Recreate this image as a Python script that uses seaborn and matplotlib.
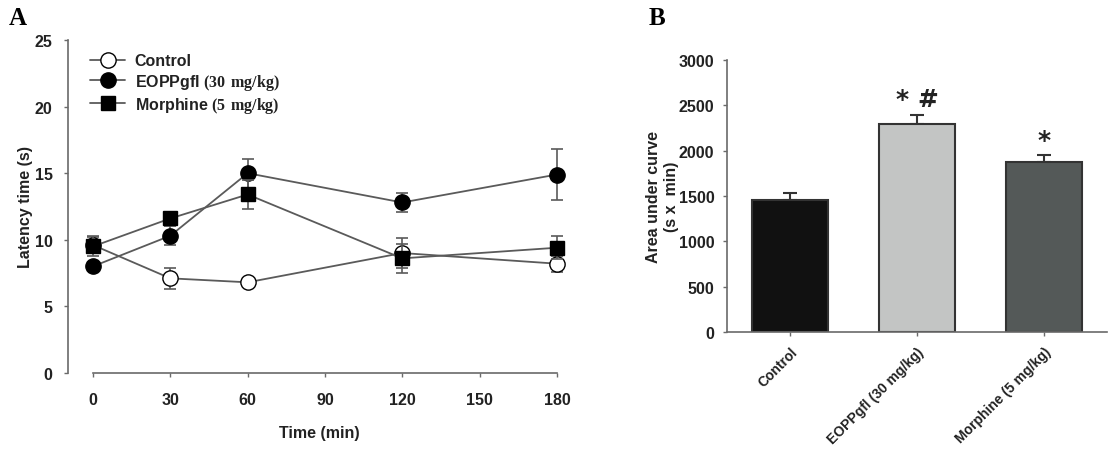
import numpy as np
import pandas as pd
import seaborn as sns
import matplotlib
matplotlib.use('Agg')
import matplotlib.pyplot as plt

# panel A: latency time (s) over time, mean +/- SEM
times = [0, 30, 60, 120, 180]
control = [9.6, 7.1, 6.8, 9.0, 8.2]
control_err = [0.6, 0.8, 0.3, 1.1, 0.6]
eopp = [8.0, 10.3, 15.0, 12.8, 14.9]
eopp_err = [0.3, 0.7, 1.1, 0.7, 1.9]
morphine = [9.5, 11.6, 13.4, 8.6, 9.4]
morphine_err = [0.75, 0.4, 1.1, 1.1, 0.85]

# panel B: area under curve
groups = ['Control', 'EOPPgfl (30 mg/kg)', 'Morphine (5 mg/kg)']
auc = [1460, 2300, 1875]
auc_err = [75, 95, 75]
bar_colors = ['#111111', '#c2c6c4', '#535a58']
marks = ['', '* #', '*']

sns.set_style('ticks')
plt.rcParams['font.family'] = ['Liberation Sans', 'DejaVu Sans']
plt.rcParams['font.weight'] = 'bold'
plt.rcParams['mathtext.fontset'] = 'custom'
plt.rcParams['mathtext.bf'] = 'Liberation Serif:bold'
plt.rcParams['mathtext.rm'] = 'Liberation Serif:bold'

fig = plt.figure(figsize=(11.15, 4.52), dpi=100)
axA = fig.add_axes([0.061, 0.173, 0.450, 0.736])
axB = fig.add_axes([0.652, 0.263, 0.341, 0.602])

line_col = '#5a5a5a'
spine_col = '#6a6a6a'
txt_col = '#222222'
fs = 11.5

series = [
    ('Control', control, control_err, 'o', 'white'),
    (r'EOPPgfl $\mathbf{(30\ mg/kg)}$', eopp, eopp_err, 'o', 'black'),
    (r'Morphine $\mathbf{(5\ mg/kg)}$', morphine, morphine_err, 's', 'black'),
]
for i, (lab, vals, err, mk, fc) in enumerate(series):
    axA.errorbar(times, vals, yerr=err, fmt='none', ecolor=line_col,
                 elinewidth=1.2, capsize=4, capthick=1.2, zorder=2 + i)
    sns.lineplot(x=times, y=vals, ax=axA, color=line_col, lw=1.3,
                 marker=mk, markersize=11 if mk == 'o' else 10,
                 markerfacecolor=fc, markeredgecolor='black',
                 markeredgewidth=1.0, label=lab, zorder=3 + i)

axA.set_xlim(-9.7, 185)
axA.set_ylim(0, 25)
axA.set_xticks([0, 30, 60, 90, 120, 150, 180])
axA.set_yticks([0, 5, 10, 15, 20, 25])
sns.despine(ax=axA)
axA.spines['bottom'].set_bounds(0, 180)
for s in ['left', 'bottom']:
    axA.spines[s].set_color(spine_col)
    axA.spines[s].set_linewidth(1.2)
axA.tick_params(length=3, width=1, color=spine_col, labelsize=fs,
                labelcolor=txt_col, pad=8)
axA.tick_params(axis='x', pad=11)
axA.set_xlabel('Time (min)', fontsize=fs, fontweight='bold', labelpad=13,
               color=txt_col)
axA.set_ylabel('Latency time (s)', fontsize=fs, fontweight='bold',
               labelpad=1, color=txt_col)
leg = axA.legend(loc='upper left', bbox_to_anchor=(0.044, 0.96),
                 frameon=False, fontsize=fs, handlelength=2.2,
                 handletextpad=0.6, labelspacing=0.2, borderpad=0,
                 borderaxespad=0)
for t in leg.get_texts():
    t.set_color(txt_col)

# panel B
df_b = pd.DataFrame({'group': groups, 'auc': auc})
sns.barplot(data=df_b, x='group', y='auc', hue='group', palette=bar_colors,
            legend=False, width=0.6, edgecolor='#333333', linewidth=1.5,
            ax=axB, zorder=2)
axB.errorbar(range(len(groups)), auc, yerr=[[0] * len(auc), auc_err],
             fmt='none', ecolor='#333333', elinewidth=1.5, capsize=5,
             capthick=1.5, zorder=1)
for i, m in enumerate(marks):
    if m:
        axB.text(i, auc[i] + auc_err[i] + 40, m, ha='center', va='bottom',
                 fontsize=18, fontweight='bold', family='DejaVu Sans',
                 color=txt_col)
axB.set_xlim(-0.5, 2.5)
axB.set_ylim(0, 3000)
axB.set_yticks(np.arange(0, 3001, 500))
sns.despine(ax=axB)
for s in ['left', 'bottom']:
    axB.spines[s].set_color(spine_col)
    axB.spines[s].set_linewidth(1.2)
axB.tick_params(length=3, width=1, color=spine_col, labelsize=fs,
                labelcolor=txt_col, pad=6)
axB.set_xticks(range(len(groups)))
axB.set_xticklabels(groups, rotation=45, ha='right', rotation_mode='anchor',
                    fontsize=10, fontweight='bold')
axB.set_xlabel('')
axB.set_ylabel('Area under curve\n(s x  min)', fontsize=fs,
               fontweight='bold', labelpad=0, color=txt_col)

fig.text(0.008, 0.945, 'A', family='Liberation Serif', fontweight='bold',
         fontsize=18, color='black')
fig.text(0.582, 0.945, 'B', family='Liberation Serif', fontweight='bold',
         fontsize=18, color='black')

fig.savefig('out.png', dpi=100)
